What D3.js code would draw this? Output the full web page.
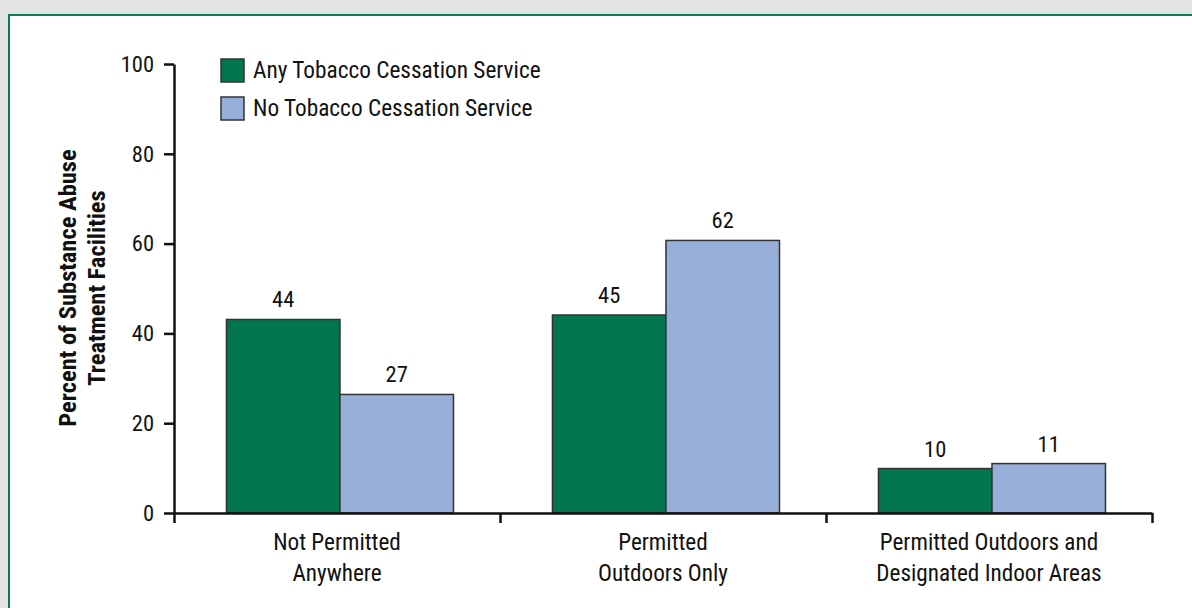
<!DOCTYPE html>
<html><head><meta charset="utf-8">
<script src="https://cdn.jsdelivr.net/npm/d3@7"></script>
<style>
html,body{margin:0;padding:0;background:#e3e3e3;}
svg{display:block;}
text{font-family:"Liberation Sans Narrow","Roboto Condensed","Liberation Sans",Arial,sans-serif;fill:#111;}
</style></head>
<body><svg id="c" width="1192" height="608"></svg>
<script>
const categories = [["Not Permitted","Anywhere"],["Permitted","Outdoors Only"],["Permitted Outdoors and","Designated Indoor Areas"]];
const seriesNames = ["Any Tobacco Cessation Service","No Tobacco Cessation Service"];
const seriesColors = ["#027550","#97afd9"];
const anyService = [43.1, 44.1, 9.9];
const noService = [26.4, 60.7, 11.0];
const anyLabels = ["44","45","10"];
const noLabels = ["27","62","11"];
const yTicks = [0,20,40,60,80,100];

const svg = d3.select("#c");
svg.append("rect").attr("x",9).attr("y",15).attr("width",1300).attr("height",700)
  .attr("fill","#fff").attr("stroke","#0a7d56").attr("stroke-width",2);

const x0 = 174, x1 = 1152, yBot = 513, yTop = 64;
const y = d3.scaleLinear().domain([0,100]).range([yBot,yTop]);
const xb = d3.scaleBand().domain(d3.range(categories.length)).range([x0,x1]).padding(0);
const xs = d3.scaleBand().domain([0,1]).range([0,xb.bandwidth()]).paddingInner(0).paddingOuter(0.436).align(0.53);
const xEdge = d3.scaleLinear().domain([0,categories.length]).range([x0,x1]);

const data = [anyService, noService];
const labels = [anyLabels, noLabels];
const g = svg.append("g");
data.forEach((vals,s)=>{
  g.selectAll(null).data(vals).enter().append("rect")
    .attr("x",(d,i)=>xb(i)+xs(s)).attr("y",d=>y(d))
    .attr("width",xs.bandwidth()).attr("height",d=>y(0)-y(d))
    .attr("fill",seriesColors[s]).attr("stroke","#333").attr("stroke-width",1.5);
  g.selectAll(null).data(vals).enter().append("text")
    .attr("x",(d,i)=>xb(i)+xs(s)+xs.bandwidth()/2).attr("y",d=>y(d)-12)
    .attr("text-anchor","middle").style("font-size","22.5px")
    .text((d,i)=>labels[s][i]);
});

// y axis
const ya = svg.append("g").attr("transform",`translate(${x0},0)`)
  .call(d3.axisLeft(y).tickValues(yTicks).tickSize(10).tickPadding(10).tickSizeOuter(0));
ya.select(".domain").attr("stroke","#111").attr("stroke-width",2.5);
ya.selectAll(".tick line").attr("stroke","#111").attr("stroke-width",2.5);
ya.selectAll(".tick text").style("font-size","22.5px").style("font-family",null).attr("fill","#111");

// x axis
const xa = svg.append("g").attr("transform",`translate(0,${yBot})`)
  .call(d3.axisBottom(xEdge).tickValues(d3.range(categories.length+1)).tickSize(10).tickSizeOuter(0).tickFormat(""));
xa.select(".domain").attr("stroke","#111").attr("stroke-width",2.5);
xa.selectAll(".tick line").attr("stroke","#111").attr("stroke-width",2.5);

// category labels
categories.forEach((lines,i)=>{
  const t = svg.append("text").attr("x",xb(i)+xb.bandwidth()/2).attr("y",550)
    .attr("text-anchor","middle").style("font-size","23.2px");
  lines.forEach((l,k)=>t.append("tspan").attr("x",xb(i)+xb.bandwidth()/2).attr("dy",k?31:0).text(l));
});

// y title
const yt = svg.append("text").attr("transform","translate(0,288) rotate(-90)")
  .attr("text-anchor","middle").style("font-size","24.5px").style("font-weight","bold");
yt.append("tspan").attr("x",0).attr("y",76).text("Percent of Substance Abuse");
yt.append("tspan").attr("x",0).attr("y",105).text("Treatment Facilities");

// legend
seriesNames.forEach((n,i)=>{
  const ly = 59 + i*38;
  svg.append("rect").attr("x",221).attr("y",ly).attr("width",23).attr("height",23)
    .attr("fill",seriesColors[i]).attr("stroke","#333").attr("stroke-width",1.5);
  svg.append("text").attr("x",253).attr("y",ly+19).style("font-size","23.3px").text(n);
});
</script></body></html>
